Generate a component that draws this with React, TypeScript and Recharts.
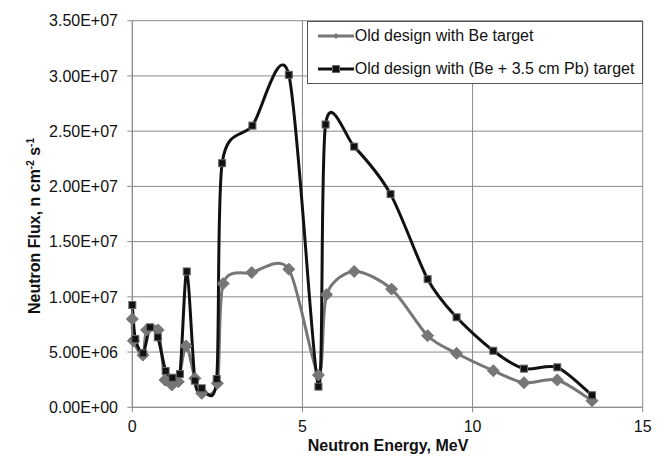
import { LineChart, Line, XAxis, YAxis, CartesianGrid, Legend, Label } from 'recharts';

// neutron energy (MeV) and flux (n cm^-2 s^-1)
const beEnergy = [0.0, 0.03, 0.31, 0.42, 0.76, 0.96, 1.16, 1.35, 1.58, 1.84, 2.04, 2.5, 2.67, 3.51, 4.6, 5.47, 5.71, 6.52, 7.62, 8.68, 9.53, 10.61, 11.51, 12.49, 13.51];
const beFlux = [7.99e6, 6.03e6, 4.73e6, 7.0e6, 7.0e6, 2.47e6, 2.02e6, 2.32e6, 5.55e6, 2.62e6, 1.27e6, 2.17e6, 1.12e7, 1.22e7, 1.25e7, 2.92e6, 1.02e7, 1.23e7, 1.07e7, 6.48e6, 4.89e6, 3.31e6, 2.23e6, 2.47e6, 6.0e5];

const pbEnergy = [0.0, 0.09, 0.32, 0.52, 0.75, 0.98, 1.18, 1.4, 1.6, 1.84, 2.04, 2.48, 2.64, 3.53, 4.6, 5.47, 5.68, 6.52, 7.59, 8.68, 9.53, 10.61, 11.51, 12.49, 13.51];
const pbFlux = [9.26e6, 6.18e6, 4.89e6, 7.24e6, 6.34e6, 3.29e6, 2.68e6, 3.01e6, 1.23e7, 2.41e6, 1.72e6, 2.56e6, 2.21e7, 2.55e7, 3.01e7, 1.87e6, 2.56e7, 2.36e7, 1.93e7, 1.16e7, 8.15e6, 5.12e6, 3.5e6, 3.62e6, 1.09e6];

const xTicks = [0, 5, 10, 15];
const yTicks = [0, 5e6, 1e7, 1.5e7, 2e7, 2.5e7, 3e7, 3.5e7];

const beName = 'Old design with Be target';
const pbName = 'Old design with (Be + 3.5 cm Pb) target';

const beData = beEnergy.map((e, i) => ({ e, flux: beFlux[i] }));
const pbData = pbEnergy.map((e, i) => ({ e, flux: pbFlux[i] }));

const FONT = '"Liberation Sans", Arial, sans-serif';
const GREY = '#767676';

// Excel-like smoothed line (Catmull-Rom through the points, a bit tighter)
const excelCurve = (context: any) => {
  let pts: number[][] = [];
  return {
    areaStart() {},
    areaEnd() {},
    lineStart() {
      pts = [];
    },
    point(x: number, y: number) {
      pts.push([+x, +y]);
    },
    lineEnd() {
      if (!pts.length) return;
      context.moveTo(pts[0][0], pts[0][1]);
      const n = pts.length;
      for (let i = 0; i < n - 1; i++) {
        const p0 = pts[Math.max(i - 1, 0)];
        const p1 = pts[i];
        const p2 = pts[i + 1];
        const p3 = pts[Math.min(i + 2, n - 1)];
        const k = 0.14;
        context.bezierCurveTo(
          p1[0] + (p2[0] - p0[0]) * k,
          p1[1] + (p2[1] - p0[1]) * k,
          p2[0] - (p3[0] - p1[0]) * k,
          p2[1] - (p3[1] - p1[1]) * k,
          p2[0],
          p2[1]
        );
      }
    },
  };
};

const sci = (v: number) => {
  if (v === 0) return '0.00E+00';
  const e = Math.floor(Math.log10(v) + 1e-9);
  const m = v / Math.pow(10, e);
  return `${m.toFixed(2)}E+${String(e).padStart(2, '0')}`;
};

const diamondPath = (cx: number, cy: number, r: number) =>
  `M${cx},${cy - r}L${cx + r},${cy}L${cx},${cy + r}L${cx - r},${cy}Z`;

const BeDot = (p: any) => {
  const { cx, cy, index } = p;
  if (cx == null || cy == null) return <g key={`be-${index}`} />;
  return <path key={`be-${index}`} d={diamondPath(cx, cy, 6)} fill={GREY} stroke={GREY} strokeWidth={1} />;
};

const PbDot = (p: any) => {
  const { cx, cy, index } = p;
  if (cx == null || cy == null) return <g key={`pb-${index}`} />;
  return <rect key={`pb-${index}`} x={cx - 3.5} y={cy - 3.5} width={7} height={7} fill="#111" stroke="#666" strokeWidth={1} />;
};

const XTitle = () => (
  <text x={388} y={451} textAnchor="middle" fontFamily={FONT} fontSize={16} fontWeight="bold" fill="#111">
    Neutron Energy, MeV
  </text>
);

const YTitle = () => (
  <text x={40} y={226} transform="rotate(-90, 40, 226)" textAnchor="middle" fontFamily={FONT} fontSize={16} fontWeight="bold" fill="#111">
    Neutron Flux, n cm
    <tspan dy={-6} fontSize={10}>-2</tspan>
    <tspan dy={6}> s</tspan>
    <tspan dy={-6} fontSize={10}>-1</tspan>
  </text>
);

const LegendBox = () => {
  const rows = [
    { name: beName, marker: <path d={diamondPath(18, 10, 3)} fill={GREY} />, color: GREY },
    { name: pbName, marker: <rect x={14.5} y={6.5} width={7} height={7} fill="#111" stroke="#666" />, color: '#111' },
  ];
  return (
    <div
      style={{
        width: 336,
        height: 63,
        border: '1px solid #555',
        background: '#fff',
        boxSizing: 'border-box',
        position: 'relative',
        fontFamily: FONT,
        fontSize: 16,
        color: '#111',
      }}
    >
      {rows.map((r, i) => (
        <div key={r.name} style={{ position: 'absolute', left: 10, top: i === 0 ? 4 : 37, height: 20, display: 'flex', alignItems: 'center', whiteSpace: 'nowrap' }}>
          <svg width={36} height={20} style={{ display: 'block' }}>
            <line x1={0} y1={10} x2={36} y2={10} stroke={r.color} strokeWidth={3} />
            {r.marker}
          </svg>
          <span style={{ marginLeft: 1, lineHeight: '20px' }}>{r.name}</span>
        </div>
      ))}
    </div>
  );
};

export default function App() {
  return (
    <div style={{ position: 'absolute', left: 0, top: 0, width: 667, height: 458, background: '#fff' }}>
      <LineChart width={667} height={458} margin={{ top: 20.7, right: 24.3, bottom: 0, left: 12 }} style={{ fontFamily: FONT }}>
        <CartesianGrid stroke="#8a8a8a" strokeWidth={1} />
        <XAxis
          type="number"
          dataKey="e"
          domain={[0, 15]}
          ticks={xTicks}
          height={50.7}
          tickSize={5}
          tickMargin={8}
          stroke="#8a8a8a"
          tick={{ fill: '#111', fontSize: 16, fontFamily: FONT }}
          allowDuplicatedCategory={false}
          label={<Label content={XTitle} />}
        />
        <YAxis
          type="number"
          domain={[0, 3.5e7]}
          ticks={yTicks}
          width={120.3}
          tickSize={5}
          tickMargin={9.3}
          stroke="#8a8a8a"
          tickFormatter={sci}
          tick={{ fill: '#111', fontSize: 16, fontFamily: FONT }}
          label={<Label content={YTitle} />}
        />
        <Legend
          layout="vertical"
          align="center"
          verticalAlign="middle"
          content={LegendBox}
          wrapperStyle={{ position: 'absolute', left: 306.7, top: 20.7, width: 336, height: 63 }}
        />
        <Line
          data={beData}
          dataKey="flux"
          name={beName}
          type={excelCurve as any}
          stroke={GREY}
          strokeWidth={3}
          dot={BeDot}
          activeDot={false}
          isAnimationActive={false}
        />
        <Line
          data={pbData}
          dataKey="flux"
          name={pbName}
          type={excelCurve as any}
          stroke="#111"
          strokeWidth={3}
          dot={PbDot}
          activeDot={false}
          isAnimationActive={false}
        />
      </LineChart>
    </div>
  );
}
